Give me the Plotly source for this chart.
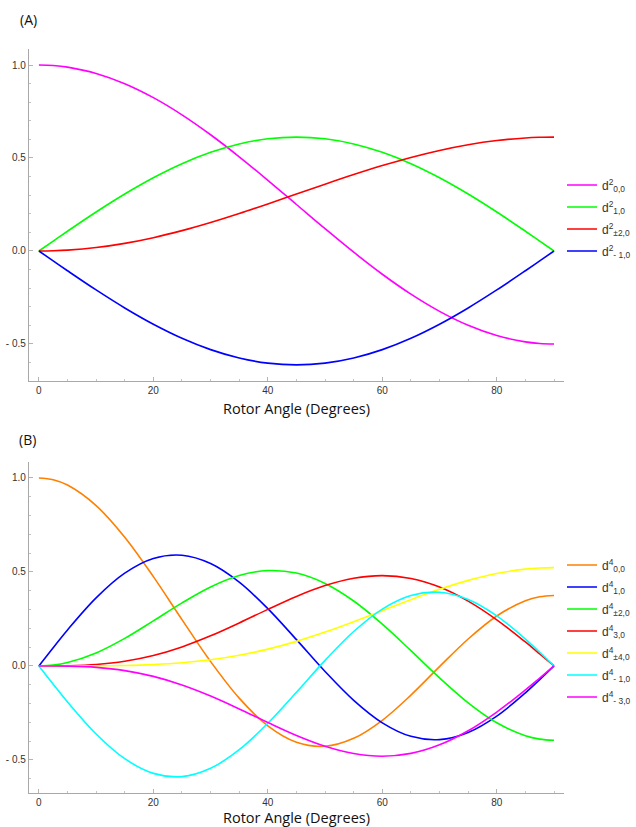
import plotly.graph_objects as go

# Rotor angle samples (degrees); extra samples next to both ends
angle = [0, 2.5, 5, 10, 15, 20, 25, 30, 35, 40, 45, 50, 55, 60, 65, 70, 75, 80, 85, 87.5, 90]

# (A) rank-2 reduced Wigner elements
d2_00 = [1.0, 0.9971, 0.9886, 0.9548, 0.8995, 0.8245, 0.7321, 0.625, 0.5065, 0.3802, 0.25,
         0.1198, -0.0065, -0.125, -0.2321, -0.3245, -0.3995, -0.4548, -0.4886, -0.4971, -0.5]
d2_10 = [0.0, 0.0534, 0.1063, 0.2094, 0.3062, 0.3936, 0.4691, 0.5303, 0.5754, 0.6031, 0.6124,
         0.6031, 0.5754, 0.5303, 0.4691, 0.3936, 0.3062, 0.2094, 0.1063, 0.0534, 0.0]
d2_20 = [0.0, 0.0012, 0.0047, 0.0185, 0.0410, 0.0716, 0.1094, 0.1531, 0.2015, 0.2530, 0.3062,
         0.3594, 0.4109, 0.4593, 0.5030, 0.5407, 0.5713, 0.5939, 0.6077, 0.6112, 0.6124]
d2_m10 = [0.0, -0.0534, -0.1063, -0.2094, -0.3062, -0.3936, -0.4691, -0.5303, -0.5754, -0.6031, -0.6124,
          -0.6031, -0.5754, -0.5303, -0.4691, -0.3936, -0.3062, -0.2094, -0.1063, -0.0534, 0.0]

# (B) rank-4 reduced Wigner elements
d4_00 = [1.0, 0.9905, 0.9623, 0.8532, 0.6847, 0.4750, 0.2465, 0.0234, -0.1714, -0.3190, -0.4063,
         -0.4275, -0.3852, -0.2891, -0.1552, -0.0038, 0.1434, 0.2659, 0.3468, 0.3679, 0.375]
d4_10 = [0.0, 0.0971, 0.1916, 0.3622, 0.4935, 0.5715, 0.5888, 0.5446, 0.4457, 0.3049, 0.1398,
         -0.0296, -0.1831, -0.3026, -0.3746, -0.3919, -0.3537, -0.2666, -0.1430, -0.0728, 0.0]
d4_20 = [0.0, 0.0045, 0.0179, 0.0690, 0.1465, 0.2396, 0.3353, 0.4200, 0.4808, 0.5076, 0.4941,
         0.4389, 0.3456, 0.2223, 0.0813, -0.0632, -0.1959, -0.3025, -0.3714, -0.3893, -0.3953]
d4_30 = [0.0, 0.0001, 0.0010, 0.0076, 0.0248, 0.0556, 0.1012, 0.1601, 0.2286, 0.3009, 0.3698,
         0.4274, 0.4663, 0.4803, 0.4653, 0.4197, 0.3450, 0.2453, 0.1274, 0.0643, 0.0]
d4_40 = [0.0, 0.0000, 0.0000, 0.0005, 0.0023, 0.0072, 0.0167, 0.0327, 0.0566, 0.0893, 0.1307,
         0.1801, 0.2354, 0.2941, 0.3528, 0.4077, 0.4552, 0.4919, 0.5150, 0.5209, 0.5229]
d4_m10 = [0.0, -0.0971, -0.1916, -0.3622, -0.4935, -0.5715, -0.5888, -0.5446, -0.4457, -0.3049, -0.1398,
          0.0296, 0.1831, 0.3026, 0.3746, 0.3919, 0.3537, 0.2666, 0.1430, 0.0728, 0.0]
d4_m30 = [0.0, -0.0001, -0.0010, -0.0076, -0.0248, -0.0556, -0.1012, -0.1601, -0.2286, -0.3009, -0.3698,
          -0.4274, -0.4663, -0.4803, -0.4653, -0.4197, -0.3450, -0.2453, -0.1274, -0.0643, 0.0]

y_tickvals = [-0.5, 0.0, 0.5, 1.0]
y_ticktext = ["- 0.5", "0.0", "0.5", "1.0"]
x_tickvals = [0, 20, 40, 60, 80]

series_a = [
    ("d<sup>2</sup><sub>0,0</sub>", d2_00, "#ff00ff"),
    ("d<sup>2</sup><sub>1,0</sub>", d2_10, "#00ff00"),
    ("d<sup>2</sup><sub>±2,0</sub>", d2_20, "#ff0000"),
    ("d<sup>2</sup><sub>- 1,0</sub>", d2_m10, "#0000ff"),
]
series_b = [
    ("d<sup>4</sup><sub>0,0</sub>", d4_00, "#ff8000"),
    ("d<sup>4</sup><sub>1,0</sub>", d4_10, "#0000ff"),
    ("d<sup>4</sup><sub>±2,0</sub>", d4_20, "#00ff00"),
    ("d<sup>4</sup><sub>3,0</sub>", d4_30, "#ff0000"),
    ("d<sup>4</sup><sub>±4,0</sub>", d4_40, "#ffff00"),
    ("d<sup>4</sup><sub>- 1,0</sub>", d4_m10, "#00ffff"),
    ("d<sup>4</sup><sub>- 3,0</sub>", d4_m30, "#ff00ff"),
]

fig = go.Figure()

for i, (name, vals, col) in enumerate(series_a):
    fig.add_trace(go.Scatter(
        x=angle, y=vals, name=name, mode="lines",
        line=dict(color=col, width=1.6, shape="spline"),
        xaxis="x", yaxis="y", legend="legend", legendgroup=f"a{i}",
    ))

for i, (name, vals, col) in enumerate(series_b):
    fig.add_trace(go.Scatter(
        x=angle, y=vals, name=name, mode="lines",
        line=dict(color=col, width=1.6, shape="spline"),
        xaxis="x2", yaxis="y2", legend="legend2", legendgroup=f"b{i}",
    ))

H = 827.0
W = 636.0

tickfont = dict(family="Liberation Sans, Arial, sans-serif", size=10, color="#333333")
axis_common = dict(
    showline=True, linecolor="#a8a8a8", linewidth=1,
    ticks="inside", ticklen=4, tickcolor="#b4b4b4", tickwidth=1,
    showgrid=False, zeroline=False, tickfont=tickfont,
)

xdom = [29 / W, 567 / W]
xaxis = dict(axis_common, domain=xdom, range=[-1.75, 91.8], tickvals=x_tickvals,
             minor=dict(dtick=5, ticks="inside", ticklen=2, tickcolor="#c4c4c4"))

legend_font = dict(family="Liberation Sans, Arial, sans-serif", size=12, color="#333333")

fig.update_layout(
    width=636, height=827,
    margin=dict(l=0, r=0, t=0, b=0),
    paper_bgcolor="white", plot_bgcolor="white",
    xaxis=dict(xaxis, anchor="y"),
    yaxis=dict(axis_common, domain=[1 - 381 / H, 1 - 49 / H], range=[-0.699, 1.086],
               tickvals=y_tickvals, ticktext=y_ticktext, anchor="x",
               minor=dict(dtick=0.1, ticks="inside", ticklen=2, tickcolor="#c4c4c4")),
    xaxis2=dict(xaxis, anchor="y2"),
    yaxis2=dict(axis_common, domain=[1 - 793 / H, 1 - 462 / H], range=[-0.676, 1.085],
                tickvals=y_tickvals, ticktext=y_ticktext, anchor="x2",
                minor=dict(dtick=0.1, ticks="inside", ticklen=2, tickcolor="#c4c4c4")),
    legend=dict(x=565 / W, xanchor="left", y=1 - 218 / H, yanchor="middle",
                font=legend_font, tracegroupgap=3, bgcolor="rgba(0,0,0,0)"),
    legend2=dict(x=565 / W, xanchor="left", y=1 - 631 / H, yanchor="middle",
                 font=legend_font, tracegroupgap=3, bgcolor="rgba(0,0,0,0)"),
)

title_font = dict(family="Open Sans, sans-serif", size=14.5, color="#111111")
label_font = dict(family="Open Sans, sans-serif", size=14, color="#111111")
for xr, yr, shift in (("x domain", "y domain", -27), ("x2 domain", "y2 domain", -24)):
    fig.add_annotation(text="Rotor Angle (Degrees)", xref=xr, yref=yr, x=0.5, y=0,
                       xanchor="center", yanchor="middle", yshift=shift,
                       showarrow=False, font=title_font)

fig.add_annotation(text="(A)", xref="paper", yref="paper", x=18 / W, y=1 - 20 / H,
                   xanchor="left", yanchor="middle", showarrow=False, font=label_font)
fig.add_annotation(text="(B)", xref="paper", yref="paper", x=17 / W, y=1 - 439 / H,
                   xanchor="left", yanchor="middle", showarrow=False, font=label_font)

fig.write_html("out.html")
